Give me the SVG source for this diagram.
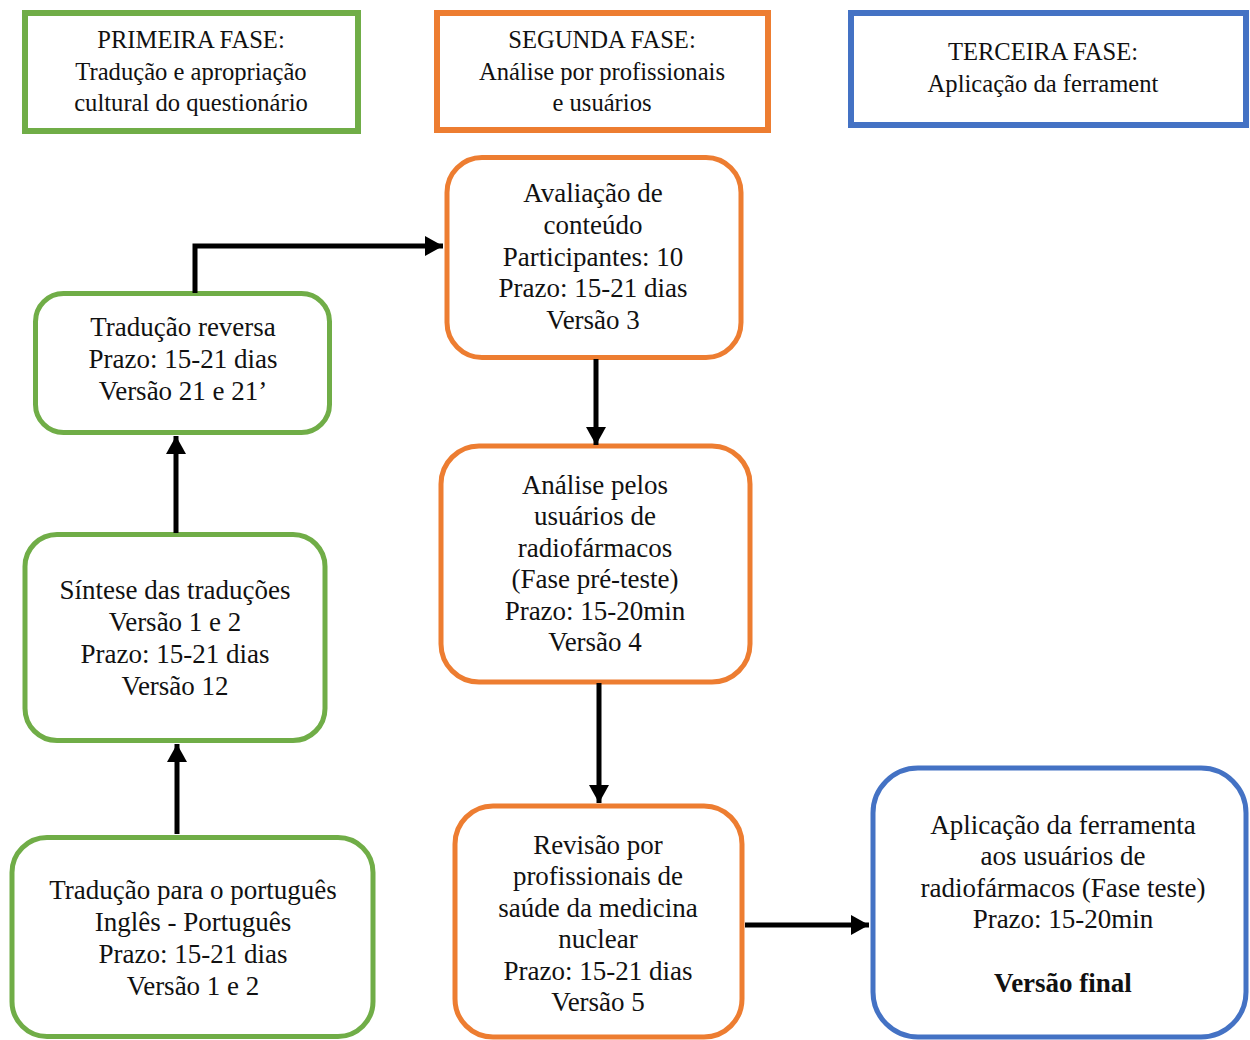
<svg xmlns="http://www.w3.org/2000/svg" width="1250" height="1040" viewBox="0 0 1250 1040">
<defs>
<marker id="ah" markerUnits="userSpaceOnUse" markerWidth="20" markerHeight="22" viewBox="0 0 20 22" refX="18" refY="11" orient="auto">
<path d="M0,1 L18,11 L0,21 Z" fill="#000"/>
</marker>
<style>
text{font-family:"Liberation Serif","Times New Roman",serif;fill:#111;text-anchor:middle}
.h{font-size:24.6px}
.n{font-size:27px}
.b{font-weight:bold}
.g{fill:#fff;stroke:#70AD47;stroke-width:5}
.o{fill:#fff;stroke:#ED7D31;stroke-width:5}
.bl{fill:#fff;stroke:#4472C4;stroke-width:5}
.hd{stroke-width:6}
.c{fill:none;stroke:#000;stroke-width:5;marker-end:url(#ah)}
</style>
</defs>
<rect width="1250" height="1040" fill="#fff"/>
<g id="fase1">
<rect class="g hd" x="25" y="13" width="333" height="118"/>
<text class="h" x="191" y="48">PRIMEIRA FASE:</text>
<text class="h" x="191" y="80">Tradução e apropriação</text>
<text class="h" x="191" y="111">cultural do questionário</text>
</g>
<g id="fase2">
<rect class="o hd" x="437" y="13" width="331" height="117"/>
<text class="h" x="602" y="48">SEGUNDA FASE:</text>
<text class="h" x="602" y="80">Análise por profissionais</text>
<text class="h" x="602" y="111">e usuários</text>
</g>
<g id="fase3">
<rect class="bl hd" x="851" y="13" width="395" height="112"/>
<text class="h" x="1043" y="60">TERCEIRA FASE:</text>
<text class="h" x="1043" y="92">Aplicação da ferrament</text>
</g>
<g id="traducao-reversa">
<rect class="g" x="35.5" y="293.5" width="294" height="139" rx="28"/>
<text class="n" x="183" y="336">Tradução reversa</text>
<text class="n" x="183" y="368">Prazo: 15-21 dias</text>
<text class="n" x="183" y="400">Versão 21 e 21’</text>
</g>
<g id="sintese">
<rect class="g" x="25" y="534.5" width="300" height="206" rx="32"/>
<text class="n" x="175" y="599">Síntese das traduções</text>
<text class="n" x="175" y="631">Versão 1 e 2</text>
<text class="n" x="175" y="663">Prazo: 15-21 dias</text>
<text class="n" x="175" y="695">Versão 12</text>
</g>
<g id="traducao-portugues">
<rect class="g" x="12" y="837.5" width="361" height="199" rx="35"/>
<text class="n" x="193" y="899">Tradução para o português</text>
<text class="n" x="193" y="931">Inglês - Português</text>
<text class="n" x="193" y="963">Prazo: 15-21 dias</text>
<text class="n" x="193" y="995">Versão 1 e 2</text>
</g>
<g id="avaliacao">
<rect class="o" x="447" y="157.5" width="294" height="200" rx="35"/>
<text class="n" x="593" y="202">Avaliação de</text>
<text class="n" x="593" y="234">conteúdo</text>
<text class="n" x="593" y="266">Participantes: 10</text>
<text class="n" x="593" y="297">Prazo: 15-21 dias</text>
<text class="n" x="593" y="329">Versão 3</text>
</g>
<g id="analise">
<rect class="o" x="441" y="446" width="309" height="236" rx="38"/>
<text class="n" x="595" y="494">Análise pelos</text>
<text class="n" x="595" y="525">usuários de</text>
<text class="n" x="595" y="557">radiofármacos</text>
<text class="n" x="595" y="588">(Fase pré-teste)</text>
<text class="n" x="595" y="620">Prazo: 15-20min</text>
<text class="n" x="595" y="651">Versão 4</text>
</g>
<g id="revisao">
<rect class="o" x="455" y="806" width="287" height="231" rx="38"/>
<text class="n" x="598" y="854">Revisão por</text>
<text class="n" x="598" y="885">profissionais de</text>
<text class="n" x="598" y="917">saúde da medicina</text>
<text class="n" x="598" y="948">nuclear</text>
<text class="n" x="598" y="980">Prazo: 15-21 dias</text>
<text class="n" x="598" y="1011">Versão 5</text>
</g>
<g id="aplicacao">
<rect class="bl" x="873" y="768" width="373" height="269" rx="45"/>
<text class="n" x="1063" y="834">Aplicação da ferramenta</text>
<text class="n" x="1063" y="865">aos usuários de</text>
<text class="n" x="1063" y="897">radiofármacos (Fase teste)</text>
<text class="n" x="1063" y="928">Prazo: 15-20min</text>
<text class="n b" x="1063" y="992">Versão final</text>
</g>
<g id="connectors">
<path class="c" d="M195,293 V246 H443"/>
<path class="c" d="M176,533 V436"/>
<path class="c" d="M177,834 V744"/>
<path class="c" d="M596,359 V445"/>
<path class="c" d="M599,683 V803"/>
<path class="c" d="M745,925 H869"/>
</g>
</svg>
